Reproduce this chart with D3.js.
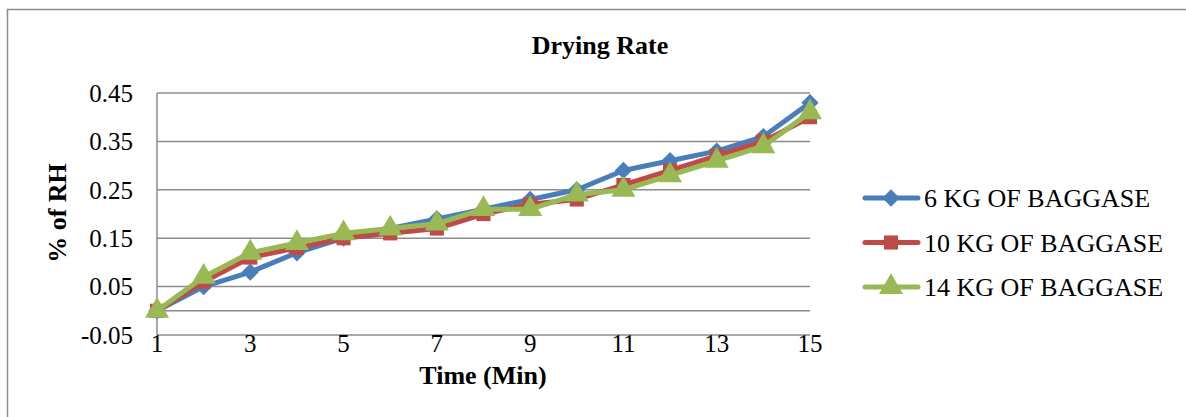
<!DOCTYPE html>
<html>
<head>
<meta charset="utf-8">
<script src="https://cdn.jsdelivr.net/npm/d3@7"></script>
<style>
  body { margin: 0; background: #fff; }
  text { font-family: "Liberation Serif", "Times New Roman", serif; fill: #000; }
</style>
</head>
<body>
<div id="chart"></div>
<script>
// data
var times = [1, 2, 3, 4, 5, 6, 7, 8, 9, 10, 11, 12, 13, 14, 15];
var kg6 = [0, 0.05, 0.08, 0.12, 0.15, 0.17, 0.19, 0.21, 0.23, 0.25, 0.29, 0.31, 0.33, 0.36, 0.43];
var kg10 = [0, 0.06, 0.11, 0.13, 0.15, 0.16, 0.17, 0.20, 0.22, 0.23, 0.26, 0.29, 0.32, 0.35, 0.40];
var kg14 = [0, 0.07, 0.12, 0.14, 0.16, 0.17, 0.18, 0.21, 0.21, 0.24, 0.25, 0.28, 0.31, 0.34, 0.41];
var seriesNames = ["6 KG OF BAGGASE", "10 KG OF BAGGASE", "14 KG OF BAGGASE"];
var yTicks = [-0.05, 0.05, 0.15, 0.25, 0.35, 0.45];
var xTicks = [1, 3, 5, 7, 9, 11, 13, 15];

var width = 1186, height = 417;
var colors = ["#4A7EBB", "#BE4B48", "#98B954"];
// diamond = square turned 45 degrees, like the spreadsheet marker
var symbols = [d3.symbolSquare, d3.symbolSquare, d3.symbolTriangle];
var rotations = [45, 0, 0];
var symSizes = [150, 200, 250];

var svg = d3.select("#chart").append("svg")
    .attr("width", width)
    .attr("height", height);

// outer frame
svg.append("rect")
    .attr("x", 7.5).attr("y", 9.5)
    .attr("width", 1200).attr("height", 500)
    .attr("fill", "none")
    .attr("stroke", "#8c8c8c")
    .attr("stroke-width", 1.5);

var x = d3.scaleLinear().domain([1, 15]).range([157, 810]);
var y = d3.scaleLinear().domain([-0.05, 0.45]).range([335, 93]);

// gridlines
svg.append("g").selectAll("line")
    .data(yTicks)
    .join("line")
    .attr("x1", x(1)).attr("x2", x(15))
    .attr("y1", d => y(d)).attr("y2", d => y(d))
    .attr("stroke", "#8c8c8c")
    .attr("stroke-width", 1.5);

// horizontal axis at zero
svg.append("line")
    .attr("x1", x(1)).attr("x2", x(15))
    .attr("y1", y(0)).attr("y2", y(0))
    .attr("stroke", "#8c8c8c")
    .attr("stroke-width", 1.5);

// vertical axis
svg.append("line")
    .attr("x1", x(1)).attr("x2", x(1))
    .attr("y1", y(0.45)).attr("y2", y(-0.05))
    .attr("stroke", "#8c8c8c")
    .attr("stroke-width", 1.5);

// y tick labels (plain hyphen for negatives, like the original)
svg.append("g").selectAll("text")
    .data(yTicks)
    .join("text")
    .attr("x", 133)
    .attr("y", d => y(d))
    .attr("dy", "0.35em")
    .attr("text-anchor", "end")
    .style("font-size", "25px")
    .text(d => d.toFixed(2));

// x tick labels
svg.append("g").selectAll("text")
    .data(xTicks)
    .join("text")
    .attr("x", d => x(d))
    .attr("y", 352)
    .attr("text-anchor", "middle")
    .style("font-size", "25px")
    .text(d => d);

// titles
svg.append("text")
    .attr("x", 600).attr("y", 54)
    .attr("text-anchor", "middle")
    .style("font-size", "26px")
    .style("font-weight", "bold")
    .text("Drying Rate");

svg.append("text")
    .attr("x", 483).attr("y", 384)
    .attr("text-anchor", "middle")
    .style("font-size", "26px")
    .style("font-weight", "bold")
    .text("Time (Min)");

svg.append("text")
    .attr("transform", "translate(66, 213) rotate(-90)")
    .attr("text-anchor", "middle")
    .style("font-size", "26px")
    .style("font-weight", "bold")
    .text("% of RH");

// series
var allSeries = [kg6, kg10, kg14];
var line = d3.line()
    .x((d, i) => x(times[i]))
    .y(d => y(d));

allSeries.forEach(function (vals, s) {
    var g = svg.append("g");
    g.append("path")
        .datum(vals)
        .attr("d", line)
        .attr("fill", "none")
        .attr("stroke", colors[s])
        .attr("stroke-width", 5)
        .attr("stroke-linejoin", "round");
    g.selectAll("path.pt")
        .data(vals)
        .join("path")
        .attr("class", "pt")
        .attr("d", d3.symbol().type(symbols[s]).size(symSizes[s]))
        .attr("transform", (d, i) => `translate(${x(times[i])},${y(d)}) rotate(${rotations[s]})`)
        .attr("fill", colors[s]);
});

// legend
var legend = svg.append("g");
seriesNames.forEach(function (name, s) {
    var ly = 198 + s * 44.5;
    legend.append("line")
        .attr("x1", 865).attr("x2", 918)
        .attr("y1", ly).attr("y2", ly)
        .attr("stroke", colors[s])
        .attr("stroke-width", 5)
        .attr("stroke-linecap", "round");
    legend.append("path")
        .attr("d", d3.symbol().type(symbols[s]).size(symSizes[s]))
        .attr("transform", `translate(891,${ly}) rotate(${rotations[s]})`)
        .attr("fill", colors[s]);
    legend.append("text")
        .attr("x", 924).attr("y", ly)
        .attr("dy", "0.35em")
        .style("font-size", "26px")
        .text(name);
});
</script>
</body>
</html>
